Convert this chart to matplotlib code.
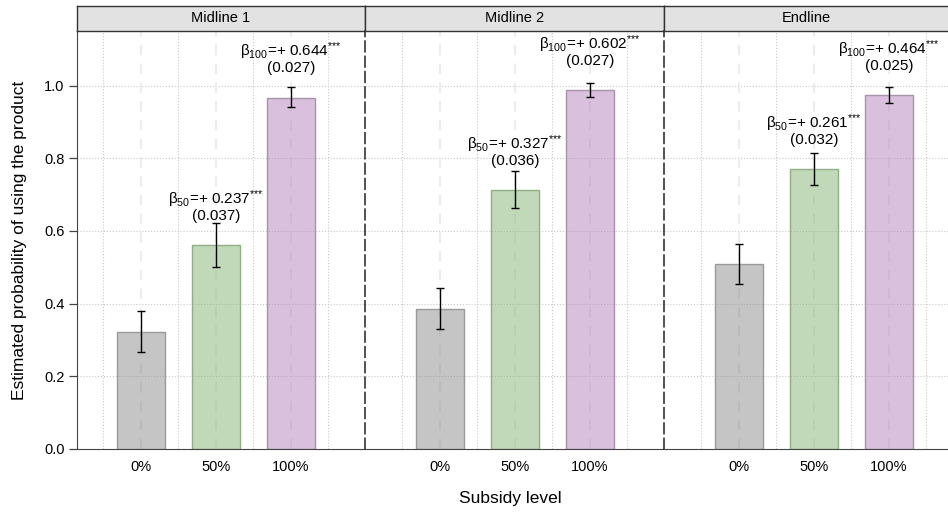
import matplotlib
matplotlib.use("Agg")
import matplotlib.pyplot as plt
import numpy as np

plt.rcParams['font.family'] = ['Liberation Sans', 'DejaVu Sans']
plt.rcParams['mathtext.fontset'] = 'custom'
plt.rcParams['mathtext.rm'] = 'Liberation Sans'
plt.rcParams['mathtext.it'] = 'Liberation Sans:italic'
plt.rcParams['mathtext.bf'] = 'Liberation Sans:bold'

# data
panels = ['Midline 1', 'Midline 2', 'Endline']
levels = ['0%', '50%', '100%']
means = [[0.323, 0.560, 0.967],
         [0.386, 0.712, 0.987],
         [0.508, 0.769, 0.973]]
ci_low = [[0.268, 0.500, 0.940],
          [0.330, 0.662, 0.968],
          [0.455, 0.725, 0.952]]
ci_high = [[0.381, 0.621, 0.995],
           [0.442, 0.765, 1.008],
           [0.565, 0.815, 0.995]]
beta50 = ['0.237', '0.327', '0.261']
se50 = ['0.037', '0.036', '0.032']
beta100 = ['0.644', '0.602', '0.464']
se100 = ['0.027', '0.027', '0.025']

face = [(0.55, 0.55, 0.55, 0.5), (0.52, 0.71, 0.45, 0.5), (0.71, 0.52, 0.74, 0.5)]
edge = ['#9a9a9a', '#8fae86', '#a892ab']

W, H = 948, 518
fig = plt.figure(figsize=(W / 100, H / 100), dpi=100)

# panel extents in pixels (left, right); third panel runs past the edge
px = [(77, 365), (365, 664), (664, 963)]
xlims = [(0.147, 3.987), (0.0, 3.987), (0.0, 3.987)]
top_px, bot_px, strip_top = 31, 449, 6

x = np.arange(1, 4)


def label(ax, xpos, ybar, sub, beta, se):
    # coefficient + standard error, placed a fixed distance above the bar top
    txt = 'β$_{' + sub + '}$=+ ' + beta + '$^{{*}{*}{*}}$\n(' + se + ')'
    ax.annotate(txt, xy=(xpos, ybar + 0.062), ha='center', va='bottom',
                fontsize=11, linespacing=0.92)


axes = []
for i, (l, r) in enumerate(px):
    ax = fig.add_axes([l / W, (H - bot_px) / H, (r - l) / W, (bot_px - top_px) / H])
    axes.append(ax)
    ax.set_xlim(*xlims[i])
    ax.set_ylim(0, 1.15)

    # grid
    for gy in [0.2, 0.4, 0.6, 0.8, 1.0]:
        ax.axhline(gy, color='#c8c8c8', lw=0.8, ls=':', zorder=0)
    for gx in [0.5, 1.5, 2.5, 3.5]:
        ax.axvline(gx, color='#c8c8c8', lw=0.8, ls=':', zorder=0)
    for gx in x:
        ax.axvline(gx, color='#ececec', lw=1.5, ls=(0, (5, 4)), zorder=0)

    m = np.array(means[i])
    lo = m - np.array(ci_low[i])
    hi = np.array(ci_high[i]) - m
    ax.bar(x, m, width=0.64, color=face, edgecolor=edge, linewidth=1, zorder=2)
    ax.errorbar(x, m, yerr=[lo, hi], fmt='none', ecolor='black', elinewidth=1,
                capsize=2.6, capthick=1, zorder=3)

    label(ax, 2, means[i][1], '50', beta50[i], se50[i])
    label(ax, 3, means[i][2], '100', beta100[i], se100[i])

    ax.set_xticks(x)
    ax.set_xticklabels(levels, fontsize=10.5)
    ax.tick_params(axis='x', length=0, pad=8)
    ax.spines['top'].set_visible(False)
    ax.spines['right'].set_visible(False)
    ax.spines['bottom'].set_color('#444444')
    if i == 0:
        ax.set_yticks([0.0, 0.2, 0.4, 0.6, 0.8, 1.0])
        ax.set_yticklabels(['0.0', '0.2', '0.4', '0.6', '0.8', '1.0'], fontsize=10.5)
        ax.tick_params(axis='y', length=6, width=0.9, color='#444444', pad=3)
        ax.spines['left'].set_color('#444444')
    else:
        ax.tick_params(axis='y', left=False, labelleft=False)
        ax.spines['left'].set_linestyle((0, (7, 3)))
        ax.spines['left'].set_color('#222222')
        ax.spines['left'].set_linewidth(1.1)

    # strip header
    sax = fig.add_axes([l / W, (H - top_px) / H, (r - l) / W, (top_px - strip_top) / H])
    sax.set_facecolor('#e2e2e2')
    sax.set_xticks([])
    sax.set_yticks([])
    for s in sax.spines.values():
        s.set_color('#333333')
        s.set_linewidth(1)
    # keep the label centred on the visible part of the cut-off panel
    visible_r = min(r, W)
    cx = ((l + visible_r) / 2 - l) / (r - l)
    sax.text(cx, 0.5, panels[i], ha='center', va='center', fontsize=10.5,
             transform=sax.transAxes)

fig.text(20 / W, (H - 240) / H, 'Estimated probability of using the product',
         rotation=90, ha='center', va='center', fontsize=12.5)
fig.text(510 / W, (H - 498) / H, 'Subsidy level', ha='center', va='center', fontsize=12.5)

fig.savefig('out.png', dpi=100)
